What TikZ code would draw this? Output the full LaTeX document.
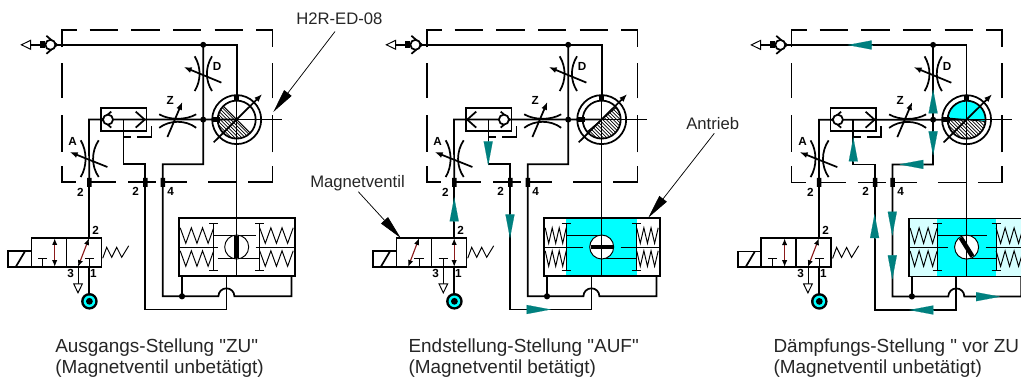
\documentclass[tikz,border=0pt]{standalone}
\usepackage{fontspec}
\setmainfont{Liberation Sans}
\newfontfamily\plainsans{Liberation Sans}
\usetikzlibrary{arrows.meta}
\definecolor{flowcol}{HTML}{00807F}
\definecolor{palecyan}{HTML}{D6FFFF}
\definecolor{purecyan}{HTML}{00FFFF}
\definecolor{valvered}{HTML}{8B1A1A}
\tikzset{
  hyd/.style={line width=1.3pt,line cap=butt,line join=miter},
  fine/.style={line width=.55pt},
  mid/.style={line width=.72pt},
  captext/.style={anchor=base west,inner sep=0pt,font=\plainsans\fontsize{14.2}{14.2}\selectfont,text=black!85},
  lab/.style={anchor=base west,inner sep=0pt,font=\fontsize{12.5}{12.5}\selectfont,text=black!85},
  num/.style={inner sep=0pt,font=\bfseries\fontsize{8.8}{8.8}\selectfont},
  redarrow/.style={valvered,line width=.85pt,{Latex[length=5pt,width=4pt,color=black]}-{Latex[length=5pt,width=4pt,color=black]}},
  adj/.style={hyd,-{Latex[length=6pt,width=4.5pt]}},
  flow/.style={flowcol,line width=.1pt,-{Triangle[length=18pt,width=6.8pt]}},
  leader/.style={fine,-{Triangle[length=18pt,width=7pt]}},
}
% common circuit: #1 prefix, #2 ball x in shuttle
\newcommand{\Common}[2]{%
  % named points
  \coordinate (#1in) at (46,44.5);
  \coordinate (#1tj) at (203.5,44.5);
  \coordinate (#1tr) at (237,44.5);
  \coordinate (#1rt) at (237,95);
  \coordinate (#1c) at (237,119.3);
  \coordinate (#1mj) at (203.5,119.3);
  \coordinate (#1ml) at (89.3,119.3);
  \coordinate (#1sv) at (123.7,119.3);
  \coordinate (#1sb) at (123.7,164);
  \coordinate (#1ptwo) at (145.5,182);
  \coordinate (#1ptwob) at (145.5,164);
  \coordinate (#1jf) at (203.5,164);
  \coordinate (#1pfb) at (163,164);
  \coordinate (#1pf) at (163,182);
  \coordinate (#1pa) at (89.5,182);
  \coordinate (#1vt) at (89.5,237.7);
  \coordinate (#1hf) at (163,296);
  \coordinate (#1jb) at (182.3,296);
  \coordinate (#1ab) at (182.3,276);
  \coordinate (#1hl) at (218.7,296);
  \coordinate (#1hr) at (234.7,296);
  \coordinate (#1re) at (291.7,296);
  \coordinate (#1reb) at (291.7,276);
  \coordinate (#1bb) at (226.7,276);
  \coordinate (#1bc) at (226.7,309.3);
  \coordinate (#1bl) at (145.5,309.3);
  % dashed housing
  \draw[hyd] (62,47)--(62,29.5)--(77.3,29.5) (90,29.5)--(118.3,29.5) (131.7,29.5)--(160,29.5) (173.3,29.5)--(201.7,29.5) (215,29.5)--(243.3,29.5) (256.7,29.5)--(272.7,29.5)--(272.7,47);
  \draw[hyd] (62,63)--(62,98) (62,115)--(62,152) (62,166)--(62,182)--(76,182) (90,182)--(116.7,182) (128.3,182)--(156,182) (163.3,182)--(187,182) (208.3,182)--(236.7,182) (248.3,182)--(272.7,182)--(272.7,166) (272.7,152)--(272.7,115) (272.7,98)--(272.7,63);
  % hydraulic lines
  \draw[hyd] (#1in)--(#1tj)--(#1tr)--(#1rt);
  \draw[hyd] (#1tj)--(#1mj)--(#1jf)--(#1pfb)--(#1pf)--(#1hf)--(#1jb)--(#1hl) arc (180:360:8) --(#1re)--(#1reb);
  \draw[hyd] (#1jb)--(#1ab);
  \draw[hyd] (#1pa)--(#1ml)--(#1mj)--(#1c);
  \draw[hyd] (#1sv)--(#1sb)--(#1ptwob)--(#1ptwo)--(#1bl)--(#1bc)--(#1bb);
  \draw[hyd] (#1pa)--(#1vt);
  % top-left check valve and outlet
  \coordinate (#1ot) at (21.7,44.5);
  \draw[mid,fill=white] (#1ot)--(31,40)--(31,49)--cycle;
  \draw[hyd] (31,44.5)--(46,44.5);
  \fill (40,41) rectangle (45,48);
  \draw[hyd] (46.7,35.5)--(57.3,44.5)--(46.7,53.5);
  \draw[hyd,fill=white] (50.7,44.5) circle (5);
  % shuttle valve
  \draw[hyd] (101,107.7) rectangle (146.7,130.7);
  \draw[hyd] (111.5,111.3)--(102.5,119.3)--(111.5,127.3);
  \draw[hyd] (136,111.3)--(145,119.3)--(136,127.3);
  \draw[hyd,fill=white] (#2,119.3) circle (5);
  \draw[hyd] (123.7,136.7)--(131,136.7) (137.5,136.7)--(151.7,136.7)--(151.7,125.5);
  % throttle Z
  \draw[hyd] (159.5,114) .. controls (170,120) and (186,120) .. (196.5,114);
  \draw[hyd] (159.5,127.5) .. controls (170,119.5) and (186,119.5) .. (196.5,127.5);
  \draw[adj] (167.7,136.7)--(182.7,101.5);
  % throttle D
  \draw[hyd] (195,56) .. controls (201.5,67) and (201.5,80) .. (195,90.7);
  \draw[hyd] (212.3,56) .. controls (205.5,67) and (205.5,80) .. (212.3,90.7);
  \draw[adj] (221.7,82.3)--(184,66.7);
  % throttle A
  \draw[hyd] (81,140) .. controls (87.5,151) and (87.5,166) .. (81,176.7);
  \draw[hyd] (99,140) .. controls (91.5,151) and (91.5,166) .. (99,176.7);
  \draw[adj] (107.7,166.7)--(70,151.7);
  % junctions and port blocks
  \fill (#1tj) circle (3) (#1mj) circle (3) (#1jb) circle (3.1);
  \fill (87.3,177.5) rectangle (91.8,186.5) (143.3,177.5) rectangle (147.8,186.5) (160.8,177.5) rectangle (165.3,186.5);
  % letters and numbers
  \node[num] (#1lz) at (170.5,100) {Z};
  \node[num] (#1ld) at (217.5,66.5) {D};
  \node[num] (#1la) at (73,141) {A};
  \node[num] (#1na) at (80.7,191.7) {2};
  \node[num] (#1nb) at (136,191) {2};
  \node[num] (#1nc) at (171,191) {4};
  \node[num] (#1nd) at (96,230) {2};
  \node[num] (#1ne) at (71,272.7) {3};
  \node[num] (#1nf) at (93.7,272.7) {1};
  % supply
  \draw[hyd] (89.5,266.7)--(89.5,294);
  \fill (89.7,301) circle (8.3);
  \fill[purecyan] (89.7,301) circle (5.8);
  \fill (89.7,301) circle (3.4);
  % valve body
  \draw[hyd] (31.7,237.7) rectangle (101.7,266.7);
  \draw[hyd] (66.7,237.7)--(66.7,266.7);
  \draw[hyd] (8.3,251) rectangle (31.7,266.7);
  \draw[hyd] (16,266.7)--(25,251.5);
  \draw[mid] (103,258)--(107,247)--(112,257)--(117,247)--(122,257)--(129,245.5);
}
% valve positions
\newcommand{\ValveA}{%
  \draw[fine] (38.5,257.7)--(47.5,257.7) (43,257.7)--(43,266.7);
  \draw[redarrow] (55,238)--(55,266.5);
  \draw[fine] (85.5,257.7)--(94.5,257.7) (89.7,257.7)--(89.7,266.7);
  \draw[redarrow] (78.3,266.5)--(89.3,238);
  \draw[fine] (78.3,266.7)--(78.3,284);
  \draw[mid,fill=white] (74,283.5)--(82.7,283.5)--(78.3,292.5)--cycle;
}
\newcommand{\ValveB}{%
  \draw[fine] (49.5,257.7)--(59,257.7) (54.3,257.7)--(54.3,266.7);
  \draw[redarrow] (43.5,266.5)--(54.3,238);
  \draw[fine] (74,257.7)--(83,257.7) (78.6,257.7)--(78.6,284);
  \draw[redarrow] (89.5,238)--(89.5,266.5);
  \draw[mid,fill=white] (74.3,283.5)--(83,283.5)--(78.6,292.5)--cycle;
}
% rotor: #1 start angle (clockwise from east, y points down)
\newcommand{\Rotor}[2]{%
  \begin{scope}[shift={(237,119.3)}]
    \begin{scope}
      \clip (0,0) circle (19);
      \ifx#2n\else\fill[purecyan] (0,0) circle (19);\fi
      \fill[white] ({#1}:30)--({#1+45}:45)--({#1+90}:45)--({#1+135}:45)--({#1+180}:30)--cycle;
      \clip ({#1}:30)--({#1+45}:45)--({#1+90}:45)--({#1+135}:45)--({#1+180}:30)--cycle;
      \foreach \d in {-34,-30.5,...,34} {\draw[fine] (\d-30,-30)--(\d+30,30);}
    \end{scope}
    \draw[mid] ({#1}:19)--({#1+180}:19);
    \draw[fine] (-22,0)--(45,0);
    \draw[fine] (0,-24)--(0,24);
    \draw[hyd] (0,0) circle (24.5);
    \draw[hyd] (0,0) circle (19);
    \draw[adj] (-23,22.7)--(25.5,-25.5);
    \fill (-24,-2.5) rectangle (-17,2.5);
    \fill (-2.5,-25) rectangle (2.5,-18.5);
  \end{scope}
}
% spring: x0 x1 ytop ybottom
\newcommand{\Spring}[4]{%
  \pgfmathsetmacro\sdx{(#2-#1)/6}
  \draw[mid] (#1,#3)--({#1+\sdx},#4)--({#1+2*\sdx},#3)--({#1+3*\sdx},#4)--({#1+4*\sdx},#3)--({#1+5*\sdx},#4)--(#2,#3);
}
% actuator: #1 tag, #2 outer colour, #3 inner colour, #4 left piston, #5 right piston, #6 upper rod end, #7 lower rod start, #8 bar angle
\newcommand{\Actuator}[8]{%
  \fill[#2] (179.3,218) rectangle (295,276);
  \fill[#3] (#4,218) rectangle (#5,276);
  \draw[fine] (237,144)--(237,218);
  \draw[mid] (179.3,246.7)--(218,246.7) (256,246.7)--(295,246.7);
  \Spring{180.5}{#4}{227.5}{243}
  \Spring{180.5}{#4}{250.5}{266}
  \Spring{#5}{293.5}{227.5}{243}
  \Spring{#5}{293.5}{250.5}{266}
  \draw[mid] (#4,223)--(#4,270) ({#4-4.5},223)--({#4+4.5},223) ({#4-4.5},270)--({#4+4.5},270);
  \draw[mid] (#5,223)--(#5,270) ({#5-4.5},223)--({#5+4.5},223) ({#5-4.5},270)--({#5+4.5},270);
  \draw[mid] (#4,235.3)--(#6,235.3);
  \draw[mid] (#7,258.2)--(#5,258.2);
  \draw[mid,fill=white] (237,246.7) circle (12);
  \draw[fine] (237,218)--(237,276);
  \begin{scope}[shift={(237,246.7)}]
    \draw[line width=3.4pt] (#8:11)--({#8+180}:11);
  \end{scope}
  \draw[line width=1.3pt,line join=miter] (179.3,218) rectangle (295,276);
  \coordinate (act#1) at (237,218);
}
\begin{document}
\begin{tikzpicture}[x=.75pt,y=-.75pt]
\clip (0,0) rectangle (1021,376);
\fill[white] (0,0) rectangle (1021,376);
% Panel 1
\begin{scope}[shift={(-0.3,0.3)}]
  \Rotor{45}{n}
  \Actuator{a}{white}{white}{214}{260}{256}{218}{90}
  \Common{a}{108.3}
  \ValveA
\end{scope}
% Panel 2
\begin{scope}[shift={(364.7,0.3)}]
  \Rotor{-40}{n}
  \Actuator{b}{white}{purecyan}{201.5}{272}{237}{237}{0}
  \Common{b}{139.2}
  \ValveB
  \draw[flow] (123.5,141.5)--(123.5,165);
  \draw[flow] (89.5,220.7)--(89.5,197);
  \draw[flow] (145.3,214)--(145.3,238);
  \draw[flow] (162,309.2)--(186,309.2);
\end{scope}
% Panel 3
\begin{scope}[shift={(729.6,0.4)}]
  \Rotor{5}{c}
  \Actuator{c}{palecyan}{purecyan}{207.5}{266.5}{257}{237}{58}
  \Common{c}{108.3}
  \ValveA
  \draw[flow] (142,44.6)--(118,44.6);
  \draw[flow] (203.5,112)--(203.5,89);
  \draw[flow] (203.5,131)--(203.5,155);
  \draw[flow] (194.7,164)--(169.7,164);
  \draw[flow] (123.7,161.3)--(123.7,137);
  \draw[flow] (145,237.3)--(145,213.6);
  \draw[flow] (162.7,212.3)--(162.7,235.3);
  \draw[flow] (162.7,255.6)--(162.7,279);
  \draw[flow] (246.4,296.3)--(270.4,296.3);
  \draw[flow] (203.7,309.6)--(179.7,309.6);
\end{scope}
% Callouts
\node[lab] (hlab) at (296,24.5) {H2R-ED-08};
\coordinate (hstart) at (335,31.5);
\coordinate (htip) at (273.3,112);
\draw[leader] (hstart)--(htip);
\node[lab] (mlab) at (310,187) {Magnetventil};
\coordinate (mstart) at (358.3,191.7);
\coordinate (mtip) at (400.7,238);
\draw[leader] (mstart)--(mtip);
\node[lab] (alab) at (686,129) {Antrieb};
\coordinate (astart) at (714.3,133.3);
\coordinate (atip) at (648.3,217.7);
\draw[leader] (astart)--(atip);
% Captions
\node[captext] (c1a) at (55,352.5) {Ausgangs-Stellung "ZU"};
\node[captext] (c1b) at (55,373) {(Magnetventil unbetätigt)};
\node[captext] (c2a) at (408.3,352.5) {Endstellung-Stellung "AUF"};
\node[captext] (c2b) at (408.3,373) {(Magnetventil betätigt)};
\node[captext] (c3a) at (773.3,352) {Dämpfungs-Stellung " vor ZU};
\node[captext] (c3b) at (773.3,373) {(Magnetventil unbetätigt)};
\end{tikzpicture}
\end{document}
